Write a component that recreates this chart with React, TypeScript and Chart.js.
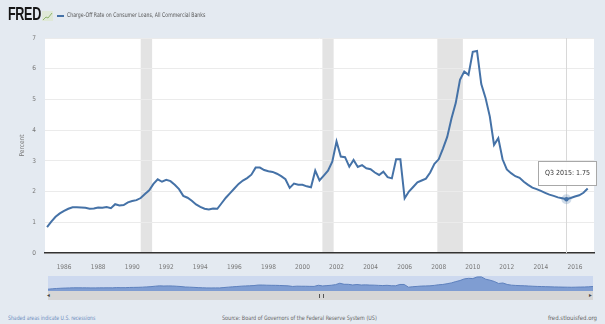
import React, { useEffect, useRef } from "react";
import { Chart, registerables } from "chart.js";

Chart.register(...registerables);

// Charge-off rate, quarterly, first value is Q1 1985
const firstYear = 1985;
const quarterlyValues: number[] = [
  0.84, 1.02, 1.18, 1.29, // 1985
  1.37, 1.44, 1.49, 1.49, // 1986
  1.48, 1.47, 1.44, 1.45, // 1987
  1.48, 1.47, 1.5, 1.46, // 1988
  1.59, 1.55, 1.56, 1.65, // 1989
  1.69, 1.72, 1.79, 1.92, // 1990
  2.04, 2.25, 2.4, 2.32, // 1991
  2.38, 2.34, 2.22, 2.08, // 1992
  1.86, 1.8, 1.7, 1.58, // 1993
  1.5, 1.44, 1.42, 1.45, // 1994
  1.44, 1.62, 1.8, 1.95, // 1995
  2.1, 2.25, 2.36, 2.44, // 1996
  2.55, 2.78, 2.78, 2.7, // 1997
  2.66, 2.64, 2.58, 2.5, // 1998
  2.4, 2.12, 2.26, 2.22, // 1999
  2.22, 2.17, 2.14, 2.68, // 2000
  2.36, 2.52, 2.68, 2.97, // 2001
  3.63, 3.14, 3.12, 2.81, // 2002
  3.03, 2.8, 2.86, 2.76, // 2003
  2.73, 2.62, 2.54, 2.65, // 2004
  2.47, 2.43, 3.05, 3.05, // 2005
  1.78, 2.0, 2.15, 2.3, // 2006
  2.36, 2.42, 2.62, 2.9, // 2007
  3.05, 3.4, 3.78, 4.38, // 2008
  4.88, 5.64, 5.91, 5.8, // 2009
  6.55, 6.58, 5.5, 5.05, // 2010
  4.45, 3.52, 3.74, 3.05, // 2011
  2.72, 2.6, 2.5, 2.45, // 2012
  2.32, 2.22, 2.13, 2.08, // 2013
  2.02, 1.96, 1.9, 1.86, // 2014
  1.81, 1.78, 1.75, 1.79, // 2015
  1.84, 1.88, 1.96, 2.1, // 2016
];

const recessionStarts = [1990.5, 2001.17, 2007.92];
const recessionEnds = [1991.17, 2001.83, 2009.42];
const xTickYears = [1986, 1988, 1990, 1992, 1994, 1996, 1998, 2000, 2002, 2004, 2006, 2008, 2010, 2012, 2014, 2016];
const yTickValues = [0, 1, 2, 3, 4, 5, 6, 7];
const hoverYear = 2015;
const hoverQuarter = 3;

const seriesTitle = "Charge-Off Rate on Consumer Loans, All Commercial Banks";
const LINE = "#4572a7";
const BG = "#e4eaf1";
const FONT = "'Liberation Sans Narrow', 'DejaVu Sans Condensed', 'Liberation Sans', sans-serif";

const points = quarterlyValues.map((v, i) => ({ x: firstYear + Math.floor(i / 4) + (i % 4) * 0.25, y: v }));
const hoverIndex = (hoverYear - firstYear) * 4 + (hoverQuarter - 1);

const bgPlugin = {
  id: "plotBg",
  beforeDraw(chart: any) {
    const { ctx, chartArea, scales } = chart;
    ctx.save();
    ctx.fillStyle = "#ffffff";
    ctx.fillRect(chartArea.left, chartArea.top, chartArea.right - chartArea.left, chartArea.bottom - chartArea.top);
    ctx.fillStyle = "#e3e3e3";
    recessionStarts.forEach((s, i) => {
      const x1 = scales.x.getPixelForValue(s);
      const x2 = scales.x.getPixelForValue(recessionEnds[i]);
      ctx.fillRect(x1, chartArea.top, x2 - x1, chartArea.bottom - chartArea.top);
    });
    ctx.restore();
  },
  beforeDatasetsDraw(chart: any) {
    const { ctx, chartArea, scales } = chart;
    const p = points[hoverIndex];
    const x = Math.round(scales.x.getPixelForValue(p.x)) + 0.5;
    ctx.save();
    ctx.strokeStyle = "#d8d8d8";
    ctx.lineWidth = 1;
    ctx.beginPath();
    ctx.moveTo(x, chartArea.top);
    ctx.lineTo(x, chartArea.bottom);
    ctx.stroke();
    ctx.restore();
  },
  afterDatasetsDraw(chart: any) {
    const { ctx, scales } = chart;
    const p = points[hoverIndex];
    const x = scales.x.getPixelForValue(p.x);
    const y = scales.y.getPixelForValue(p.y);
    ctx.save();
    ctx.fillStyle = "rgba(69,114,167,0.25)";
    ctx.beginPath();
    ctx.arc(x, y, 5, 0, Math.PI * 2);
    ctx.fill();
    ctx.fillStyle = LINE;
    ctx.beginPath();
    ctx.arc(x, y, 2.2, 0, Math.PI * 2);
    ctx.fill();
    const bw = 58;
    const bh = 24;
    const bx = Math.round(x - bw / 2 + 1) + 0.5;
    const by = Math.round(y - 38) + 0.5;
    ctx.fillStyle = "rgba(255,255,255,0.92)";
    ctx.strokeStyle = "#a8a8a8";
    ctx.lineWidth = 1;
    ctx.fillRect(bx, by, bw, bh);
    ctx.strokeRect(bx, by, bw, bh);
    ctx.fillStyle = "#333333";
    ctx.font = `7px ${FONT}`;
    ctx.textAlign = "center";
    ctx.textBaseline = "middle";
    ctx.fillText(`Q${hoverQuarter} ${hoverYear}: ${p.y.toFixed(2)}`, bx + bw / 2, by + bh / 2);
    ctx.restore();
  },
};

function MainChart() {
  const ref = useRef<HTMLCanvasElement | null>(null);
  useEffect(() => {
    if (!ref.current) return;
    const chart = new Chart(ref.current, {
      type: "line",
      data: {
        datasets: [
          {
            data: points,
            borderColor: LINE,
            borderWidth: 2,
            pointRadius: 0,
            tension: 0,
            fill: false,
          },
        ],
      },
      options: {
        animation: false,
        responsive: false,
        devicePixelRatio: 1,
        layout: { padding: { top: 38, right: 11, left: 0, bottom: 0 } },
        plugins: { legend: { display: false }, tooltip: { enabled: false } },
        scales: {
          x: {
            type: "linear",
            min: 1984.88,
            max: 2017.12,
            afterBuildTicks: (scale: any) => {
              scale.ticks = xTickYears.map((v) => ({ value: v }));
            },
            afterFit: (scale: any) => {
              scale.height = 22;
            },
            ticks: {
              autoSkip: false,
              maxRotation: 0,
              padding: 2,
              color: "#777",
              font: { size: 6.5, family: FONT },
              callback: (v: any) => String(v),
            },
            grid: { display: false },
            border: { display: true, color: "#333", width: 1.5 },
          },
          y: {
            min: 0,
            max: 7,
            afterBuildTicks: (scale: any) => {
              scale.ticks = yTickValues.map((v) => ({ value: v }));
            },
            afterFit: (scale: any) => {
              scale.width = 45;
            },
            ticks: {
              padding: 9,
              color: "#777",
              font: { size: 6.5, family: FONT },
            },
            grid: { color: "#ebebeb", lineWidth: 1, drawTicks: false },
            border: { display: false },
            title: {
              display: true,
              text: "Percent",
              color: "#777",
              font: { size: 6.5, family: FONT },
              padding: { top: 18, bottom: 0 },
            },
          },
        },
      },
      plugins: [bgPlugin],
    } as any);
    return () => chart.destroy();
  }, []);
  return <canvas ref={ref} width={605} height={275} style={{ position: "absolute", left: 0, top: 0 }} />;
}

function NavigatorChart() {
  const ref = useRef<HTMLCanvasElement | null>(null);
  useEffect(() => {
    if (!ref.current) return;
    const chart = new Chart(ref.current, {
      type: "line",
      data: {
        datasets: [
          {
            data: points,
            borderColor: "#5d80bd",
            borderWidth: 1,
            backgroundColor: "#7f9dd2",
            pointRadius: 0,
            fill: "origin",
          },
        ],
      },
      options: {
        animation: false,
        responsive: false,
        devicePixelRatio: 1,
        layout: { padding: 0 },
        plugins: { legend: { display: false }, tooltip: { enabled: false } },
        scales: {
          x: { type: "linear", display: false, min: firstYear, max: points[points.length - 1].x },
          y: { display: false, min: 0, max: 7 },
        },
      },
    } as any);
    return () => chart.destroy();
  }, []);
  return <canvas ref={ref} width={545} height={15} style={{ position: "absolute", left: 0, top: 0 }} />;
}

export default function App() {
  const small: React.CSSProperties = { position: "absolute", fontFamily: FONT, fontSize: 6, whiteSpace: "nowrap", lineHeight: "8px" };
  return (
    <div style={{ position: "fixed", left: 0, top: 0, width: 605, height: 324, background: BG, overflow: "hidden" }}>
      <MainChart />
      {/* header */}
      <div
        style={{
          position: "absolute",
          left: 8,
          top: 4,
          fontFamily: "'Liberation Sans', Arial, sans-serif",
          fontWeight: 900,
          fontSize: 18,
          color: "#151515",
          transform: "scaleX(0.7)",
          transformOrigin: "left top",
          letterSpacing: -0.5,
        }}
      >
        FRED
      </div>
      <svg style={{ position: "absolute", left: 42, top: 11 }} width={11} height={10}>
        <rect x={0} y={0} width={11} height={10} fill="#dfe8d8" />
        <polyline points="1,9 4,6 6,7 10,2" fill="none" stroke="#8fb56f" strokeWidth={1} />
      </svg>
      <div style={{ position: "absolute", left: 57, top: 15, width: 7, height: 1.5, background: LINE }} />
      <div style={{ ...small, left: 67, top: 11, color: "#555", fontSize: 6.3, transform: "scaleX(0.82)", transformOrigin: "left top" }}>
        {seriesTitle}
      </div>
      {/* navigator */}
      <div style={{ position: "absolute", left: 48, top: 276, width: 545, height: 15, background: "#cdd9ef" }}>
        <NavigatorChart />
      </div>
      <div style={{ position: "absolute", left: 48, top: 291, width: 545, height: 9, background: "#d6d6d6" }} />
      <div style={{ position: "absolute", left: 319, top: 294, width: 3, height: 4, borderLeft: "1px solid #555", borderRight: "1px solid #555" }} />
      <div style={{ ...small, left: 47, top: 291, color: "#444" }}>◂</div>
      <div style={{ ...small, left: 589, top: 291, color: "#444" }}>▸</div>
      {/* footer */}
      <div style={{ ...small, left: 8, top: 314, color: "#6d8cbd", transform: "scaleX(0.85)", transformOrigin: "left top" }}>
        Shaded areas indicate U.S. recessions
      </div>
      <div style={{ ...small, left: 222, top: 314, color: "#666", transform: "scaleX(0.9)", transformOrigin: "left top" }}>
        Source: Board of Governors of the Federal Reserve System (US)
      </div>
      <div style={{ ...small, right: 8, top: 314, color: "#666" }}>fred.stlouisfed.org</div>
    </div>
  );
}
